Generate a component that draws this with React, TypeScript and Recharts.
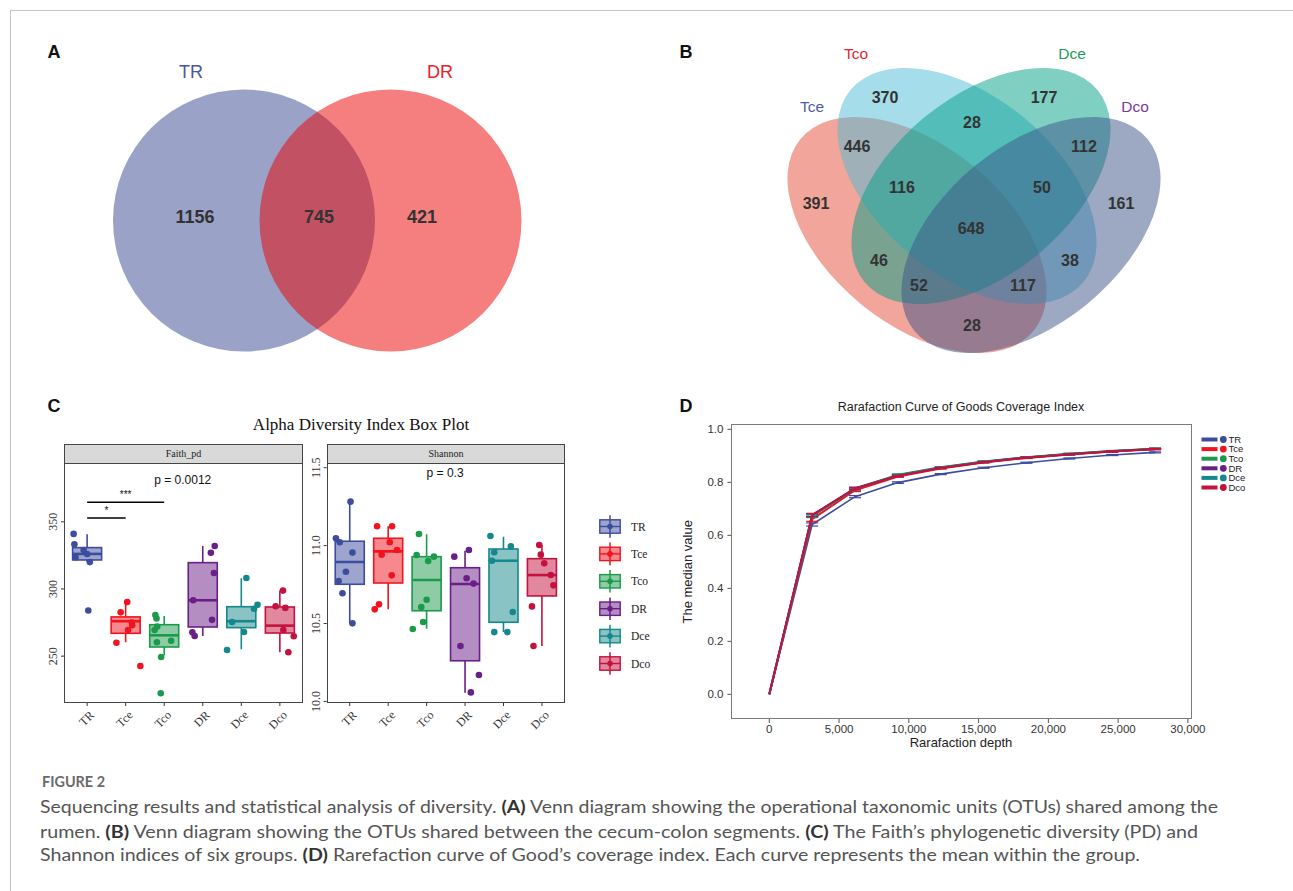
import React from "react";
import {
  ScatterChart,
  ComposedChart,
  LineChart,
  Scatter,
  Bar,
  Line,
  XAxis,
  YAxis,
  ReferenceLine,
  ErrorBar,
  Legend,
} from "recharts";

const SANS = '"Liberation Sans", Arial, Helvetica, sans-serif';
const SERIF = '"Liberation Serif", "Times New Roman", serif';
const CAPTION_FONT = 'Lato, "Open Sans", "Noto Sans", sans-serif';

// ---------- A: rumen Venn ----------
const rumenSets = ["TR", "DR"];
const rumenCounts = [1156, 745, 421]; // TR only, shared, DR only

// ---------- B: cecum-colon Venn ----------
const gutSets = ["Tce", "Tco", "Dce", "Dco"];
// Tco, Dce, Tco&Dce, Tce&Tco, Dce&Dco, Tce&Tco&Dce, Tco&Dce&Dco, Tce, Dco,
// all, Tce&Dce, Tco&Dco, Tce&Dce&Dco, Tce&Tco&Dco, Tce&Dco
const gutCounts = [370, 177, 28, 446, 112, 116, 50, 391, 161, 648, 46, 38, 52, 117, 28];

// ---------- C: alpha diversity ----------
const groups = ["TR", "Tce", "Tco", "DR", "Dce", "Dco"];

const faithLow = [320.0, 260.3, 250.6, 265.0, 255.1, 252.9];
const faithQ1 = [321.6, 267.0, 256.8, 271.7, 271.2, 267.2];
const faithMedian = [326.1, 276.0, 265.5, 291.6, 276.0, 272.7];
const faithQ3 = [330.8, 279.2, 273.4, 319.6, 286.8, 286.6];
const faithHigh = [340.7, 289.8, 279.9, 332.0, 308.0, 298.7];
const faithSamples = [
  [341, 333.3, 329, 326, 323.6, 320, 284],
  [290.3, 282.6, 275, 273, 269.5, 260, 242.7],
  [280.6, 278, 272, 269.5, 261.5, 260.3, 249.4, 222.4],
  [332, 327, 311.9, 291.6, 277, 267.8, 265],
  [308.2, 288.3, 285.3, 275.4, 268, 254.6],
  [298.8, 287.1, 285.9, 269.5, 264.8, 252.9],
];
const faithJitter = [
  [-0.35, -0.33, -0.09, 0.0, -0.3, 0.07, 0.03],
  [0.04, -0.13, 0.16, 0.17, 0.06, -0.24, 0.38],
  [-0.23, -0.2, -0.18, -0.25, 0.18, -0.19, -0.08, -0.09],
  [0.31, 0.21, 0.29, -0.25, 0.24, -0.27, -0.21],
  [0.13, 0.42, 0.33, -0.24, 0.07, -0.37],
  [0.08, -0.11, 0.14, 0.09, 0.36, 0.22],
];

const shannonLow = [10.501, 10.591, 10.467, 10.056, 10.445, 10.356];
const shannonQ1 = [10.752, 10.76, 10.582, 10.261, 10.508, 10.677];
const shannonMedian = [10.895, 10.963, 10.779, 10.754, 10.903, 10.811];
const shannonQ3 = [11.028, 11.047, 10.929, 10.858, 10.978, 10.916];
const shannonHigh = [11.282, 11.124, 11.073, 10.967, 11.057, 11.004];
const shannonSamples = [
  [11.282, 11.047, 11.021, 10.955, 10.832, 10.773, 10.694, 10.501],
  [11.124, 11.124, 11.021, 10.972, 10.942, 10.809, 10.623, 10.591],
  [11.074, 10.94, 10.929, 10.901, 10.653, 10.606, 10.51, 10.465],
  [10.929, 10.972, 10.79, 10.756, 10.356, 10.17, 10.058],
  [11.062, 10.995, 10.957, 10.903, 10.574, 10.445, 10.445],
  [11.004, 10.942, 10.886, 10.811, 10.745, 10.61, 10.356],
];
const shannonJitter = [
  [0.02, -0.36, -0.26, 0.07, -0.1, -0.29, -0.19, 0.07],
  [-0.29, 0.1, 0.04, 0.23, -0.17, 0.09, -0.24, -0.35],
  [-0.2, -0.26, 0.19, 0.04, 0.0, -0.14, -0.09, -0.36],
  [-0.28, 0.1, 0.04, 0.22, -0.12, 0.36, 0.15],
  [-0.34, 0.19, -0.24, -0.3, 0.24, -0.24, 0.1],
  [-0.07, -0.03, 0.06, 0.23, 0.3, -0.26, -0.22],
];

const faithP = "p = 0.0012";
const shannonP = "p = 0.3";
const faithSig = [
  { from: 1, to: 2, label: "*" },
  { from: 1, to: 3, label: "***" },
];

// ---------- D: rarefaction of Good's coverage ----------
const depths = [0, 3072, 6144, 9216, 12288, 15360, 18432, 21504, 24576, 27648];
const coverageTR = [0, 0.641, 0.746, 0.799, 0.831, 0.855, 0.874, 0.89, 0.903, 0.913];
const coverageTce = [0, 0.661, 0.77, 0.822, 0.852, 0.875, 0.892, 0.905, 0.916, 0.925];
const coverageTco = [0, 0.674, 0.776, 0.829, 0.857, 0.879, 0.895, 0.908, 0.918, 0.927];
const coverageDR = [0, 0.676, 0.778, 0.826, 0.855, 0.877, 0.894, 0.906, 0.917, 0.926];
const coverageDce = [0, 0.672, 0.775, 0.827, 0.856, 0.878, 0.894, 0.907, 0.918, 0.927];
const coverageDco = [0, 0.677, 0.776, 0.824, 0.854, 0.876, 0.893, 0.906, 0.917, 0.926];
const sdTR = [0, 0.006, 0.004, 0.003, 0.002, 0.002, 0.002, 0.002, 0.002, 0.002];
const sdTce = [0, 0.008, 0.005, 0.003, 0.002, 0.002, 0.002, 0.002, 0.002, 0.002];
const sdTco = [0, 0.005, 0.004, 0.003, 0.002, 0.002, 0.002, 0.002, 0.002, 0.002];
const sdDR = [0, 0.005, 0.004, 0.003, 0.002, 0.002, 0.002, 0.002, 0.002, 0.002];
const sdDce = [0, 0.005, 0.004, 0.003, 0.002, 0.002, 0.002, 0.002, 0.002, 0.002];
const sdDco = [0, 0.006, 0.004, 0.003, 0.002, 0.002, 0.002, 0.002, 0.002, 0.002];
const depthTicks = [0, 5000, 10000, 15000, 20000, 25000, 30000];
const coverageTicks = [0, 0.2, 0.4, 0.6, 0.8, 1.0];

// ---------- styling / layout ----------
const groupColors = ["#3C4C9E", "#F0141E", "#1B9A4B", "#6A1E87", "#14888A", "#C4123E"];
const BOX_WIDTH = 29;

const RUMEN_LAYOUT = {
  circles: [
    { cx: 244, cy: 220.5, r: 131 },
    { cx: 390.5, cy: 220.5, r: 131 },
  ],
  fills: ["#374591", "#eb0000"],
  titles: [
    { x: 191, y: 72 },
    { x: 440, y: 72 },
  ],
  titleColors: ["#4b5597", "#e8202a"],
  counts: [
    { x: 195, y: 217 },
    { x: 319, y: 217 },
    { x: 422, y: 217 },
  ],
};

const GUT_LAYOUT = {
  ellipses: [
    { cx: 917, cy: 235, angle: 39.5 },
    { cx: 967, cy: 186, angle: 39.5 },
    { cx: 981, cy: 186, angle: -39.5 },
    { cx: 1031, cy: 235, angle: -39.5 },
  ],
  rx: 151,
  ry: 89,
  fills: ["#E64B35", "#4DBBD5", "#00A087", "#3C5488"],
  titles: [
    { x: 812, y: 106 },
    { x: 856, y: 53 },
    { x: 1072, y: 53 },
    { x: 1135, y: 106 },
  ],
  titleColors: ["#4d5ca6", "#e4262f", "#1f9d55", "#7a3a96"],
  counts: [
    { x: 885, y: 97 },
    { x: 1044, y: 97 },
    { x: 972, y: 122 },
    { x: 857, y: 146 },
    { x: 1084, y: 146 },
    { x: 902, y: 187 },
    { x: 1042, y: 187 },
    { x: 816, y: 203 },
    { x: 1121, y: 203 },
    { x: 971, y: 228 },
    { x: 879, y: 260 },
    { x: 1070, y: 260 },
    { x: 919, y: 285 },
    { x: 1023, y: 285 },
    { x: 972, y: 325 },
  ],
};

// ---------- derived tables ----------
const rumenShapes = rumenSets.map((s, i) => ({
  name: s,
  x: RUMEN_LAYOUT.circles[i].cx,
  y: RUMEN_LAYOUT.circles[i].cy,
  rx: RUMEN_LAYOUT.circles[i].r,
  ry: RUMEN_LAYOUT.circles[i].r,
  angle: 0,
  fill: RUMEN_LAYOUT.fills[i],
}));
const rumenTexts = [
  ...rumenSets.map((s, i) => ({
    x: RUMEN_LAYOUT.titles[i].x,
    y: RUMEN_LAYOUT.titles[i].y,
    text: s,
    color: RUMEN_LAYOUT.titleColors[i],
    size: 18,
    weight: 400,
  })),
  ...rumenCounts.map((c, i) => ({
    x: RUMEN_LAYOUT.counts[i].x,
    y: RUMEN_LAYOUT.counts[i].y,
    text: String(c),
    color: "#333",
    size: 18,
    weight: 700,
  })),
];

const gutShapes = gutSets.map((s, i) => ({
  name: s,
  x: GUT_LAYOUT.ellipses[i].cx,
  y: GUT_LAYOUT.ellipses[i].cy,
  rx: GUT_LAYOUT.rx,
  ry: GUT_LAYOUT.ry,
  angle: GUT_LAYOUT.ellipses[i].angle,
  fill: GUT_LAYOUT.fills[i],
}));
const gutTexts = [
  ...gutSets.map((s, i) => ({
    x: GUT_LAYOUT.titles[i].x,
    y: GUT_LAYOUT.titles[i].y,
    text: s,
    color: GUT_LAYOUT.titleColors[i],
    size: 15.5,
    weight: 400,
  })),
  ...gutCounts.map((c, i) => ({
    x: GUT_LAYOUT.counts[i].x,
    y: GUT_LAYOUT.counts[i].y,
    text: String(c),
    color: "#333",
    size: 16,
    weight: 700,
  })),
];

const buildBoxes = (lo: number[], q1: number[], med: number[], q3: number[], hi: number[]) =>
  groups.map((g, i) => ({
    pos: i + 1,
    group: g,
    range: [lo[i], hi[i]],
    q1: q1[i],
    median: med[i],
    q3: q3[i],
  }));

const buildDots = (samples: number[][], jitter: number[][]) =>
  samples.flatMap((vals, i) =>
    vals.map((v, j) => ({ pos: i + 1 + jitter[i][j], value: v, group: groups[i] }))
  );

const faithBoxes = buildBoxes(faithLow, faithQ1, faithMedian, faithQ3, faithHigh);
const shannonBoxes = buildBoxes(shannonLow, shannonQ1, shannonMedian, shannonQ3, shannonHigh);
const faithDots = buildDots(faithSamples, faithJitter);
const shannonDots = buildDots(shannonSamples, shannonJitter);

const faithLevels = [352.9, 364.6];
const faithNotes = [
  { pos: 3.48, value: 381.2, text: faithP, size: 12 },
  { pos: 1.5, value: 358.5, text: faithSig[0].label, size: 10 },
  { pos: 2.0, value: 370.5, text: faithSig[1].label, size: 10 },
];
const shannonNotes = [{ pos: 3.48, value: 11.464, text: shannonP, size: 12 }];

const coverageSeries = [coverageTR, coverageTce, coverageTco, coverageDR, coverageDce, coverageDco];
const sdSeries = [sdTR, sdTce, sdTco, sdDR, sdDce, sdDco];
const curveRows = depths.map((d, i) => {
  const row: Record<string, number> = { depth: d };
  groups.forEach((g, k) => {
    row[g] = coverageSeries[k][i];
    row[`${g}_sd`] = sdSeries[k][i];
  });
  return row;
});

// ---------- shapes ----------
const EllipseShape = (p: any) => {
  const d = p.payload;
  return (
    <ellipse
      cx={p.cx}
      cy={p.cy}
      rx={d.rx}
      ry={d.ry}
      transform={`rotate(${d.angle} ${p.cx} ${p.cy})`}
      fill={d.fill}
      fillOpacity={0.5}
    />
  );
};

const TextShape = (p: any) => {
  const d = p.payload;
  return (
    <text
      x={p.cx}
      y={p.cy}
      textAnchor="middle"
      dominantBaseline="central"
      fontFamily={SANS}
      fontSize={d.size}
      fontWeight={d.weight}
      fill={d.color}
    >
      {d.text}
    </text>
  );
};

const NoteShape = (p: any) => {
  const d = p.payload;
  return (
    <text
      x={p.cx}
      y={p.cy}
      textAnchor="middle"
      dominantBaseline="central"
      fontFamily={SANS}
      fontSize={d.size}
      fill="#111"
    >
      {d.text}
    </text>
  );
};

const colorOf = (g: string) => groupColors[groups.indexOf(g)];

// the bar spans whisker low..high, so its pixel extent gives the value scale
const BoxShape = (p: any) => {
  const d = p.payload;
  const { x, y, width, height } = p;
  const [lo, hi] = d.range;
  const top = Math.min(y, y + height);
  const k = Math.abs(height) / (hi - lo);
  const py = (v: number) => top + (hi - v) * k;
  const c = colorOf(d.group);
  const mid = x + (width || 0) / 2;
  const bx = mid - BOX_WIDTH / 2;
  return (
    <g>
      <line x1={mid} x2={mid} y1={py(hi)} y2={py(d.q3)} stroke={c} strokeWidth={1.6} />
      <line x1={mid} x2={mid} y1={py(d.q1)} y2={py(lo)} stroke={c} strokeWidth={1.6} />
      <rect
        x={bx}
        y={py(d.q3)}
        width={BOX_WIDTH}
        height={py(d.q1) - py(d.q3)}
        fill={c}
        fillOpacity={0.5}
        stroke={c}
        strokeWidth={1.6}
      />
      <line x1={bx} x2={bx + BOX_WIDTH} y1={py(d.median)} y2={py(d.median)} stroke={c} strokeWidth={2.6} />
    </g>
  );
};

const DotShape = (p: any) => <circle cx={p.cx} cy={p.cy} r={3.3} fill={colorOf(p.payload.group)} />;

const CategoryTick = (p: any) => {
  const label = groups[Math.round(p.payload.value) - 1];
  const ax = p.x + 5;
  const ay = p.y + 5;
  return (
    <text
      x={ax}
      y={ay}
      transform={`rotate(-45 ${ax} ${ay})`}
      textAnchor="end"
      dominantBaseline="central"
      fontFamily={SERIF}
      fontSize={12}
      fill="#333"
    >
      {label}
    </text>
  );
};

const RotatedTick = (p: any) => {
  const ax = p.x - 1.5;
  return (
    <text
      x={ax}
      y={p.y}
      transform={`rotate(-90 ${ax} ${p.y})`}
      textAnchor="middle"
      fontFamily={SERIF}
      fontSize={12}
      fill="#333"
    >
      {p.fmt(p.payload.value)}
    </text>
  );
};

// ---------- legends ----------
const BoxKey = () => (
  <svg width={70} height={170}>
    {groups.map((g, i) => {
      const c = groupColors[i];
      const cy = 12.5 + 27.4 * i;
      return (
        <g key={g}>
          <line x1={11} x2={11} y1={cy - 11.3} y2={cy + 11.3} stroke={c} strokeWidth={1.5} />
          <rect x={0.8} y={cy - 6.7} width={20.4} height={13.4} fill={c} fillOpacity={0.5} stroke={c} strokeWidth={1.4} />
          <line x1={0.8} x2={21.2} y1={cy} y2={cy} stroke={c} strokeWidth={1.4} />
          <circle cx={11} cy={cy} r={2.8} fill={c} />
          <text x={32} y={cy + 4} fontFamily={SERIF} fontSize={11.5} fill="#222">
            {g}
          </text>
        </g>
      );
    })}
  </svg>
);

const CurveKey = () => (
  <svg width={70} height={64}>
    {groups.map((g, i) => {
      const c = groupColors[i];
      const cy = 5.5 + 9.6 * i;
      return (
        <g key={g}>
          <line x1={1.5} x2={17.5} y1={cy} y2={cy} stroke={c} strokeWidth={4} />
          <circle cx={23.3} cy={cy} r={3.4} fill={c} />
          <text x={28.5} y={cy + 3.3} fontFamily={SANS} fontSize={9.5} fill="#222">
            {g}
          </text>
        </g>
      );
    })}
  </svg>
);

// ---------- panels ----------
function VennPanel({ left, top, width, height, shapes, texts }: any) {
  return (
    <div style={{ position: "absolute", left, top }}>
      <ScatterChart width={width} height={height} margin={{ top: 0, right: 0, bottom: 0, left: 0 }}>
        <XAxis type="number" dataKey="x" domain={[left, left + width]} hide />
        <YAxis type="number" dataKey="y" domain={[top, top + height]} reversed hide />
        <Scatter data={shapes} shape={EllipseShape} isAnimationActive={false} />
        <Scatter data={texts} shape={TextShape} isAnimationActive={false} />
      </ScatterChart>
    </div>
  );
}

function BoxPanel({ left, top, width, height, margin, domain, yTicks, yFmt, boxes, dots, notes, levels, legend }: any) {
  return (
    <div style={{ position: "absolute", left, top }}>
      <ComposedChart width={width} height={height} data={boxes} margin={margin}>
        <XAxis
          type="number"
          dataKey="pos"
          domain={[0.4, 6.6]}
          ticks={groups.map((_, i) => i + 1)}
          interval={0}
          allowDataOverflow
          axisLine={false}
          tickSize={3}
          tickLine={{ stroke: "#333" }}
          tick={<CategoryTick />}
          height={40}
        />
        <YAxis
          type="number"
          domain={domain}
          ticks={yTicks}
          allowDataOverflow
          axisLine={false}
          tickSize={3}
          tickLine={{ stroke: "#333" }}
          tick={<RotatedTick fmt={yFmt} />}
          width={30}
        />
        <Bar dataKey="range" barSize={BOX_WIDTH} shape={BoxShape} isAnimationActive={false} />
        <Scatter data={dots} dataKey="value" shape={DotShape} isAnimationActive={false} />
        {(levels || []).map((lv: number, i: number) => (
          <ReferenceLine
            key={i}
            segment={[
              { x: faithSig[i].from, y: lv },
              { x: faithSig[i].to, y: lv },
            ]}
            stroke="#000"
            strokeWidth={1.5}
          />
        ))}
        <Scatter data={notes} dataKey="value" shape={NoteShape} isAnimationActive={false} />
        {legend}
      </ComposedChart>
    </div>
  );
}

function CurvePanel() {
  return (
    <div style={{ position: "absolute", left: 640, top: 395 }}>
      <LineChart
        width={653}
        height={370}
        data={curveRows}
        margin={{ top: 29.3, right: 100.9, bottom: 16, left: 41.4 }}
      >
        <XAxis
          type="number"
          dataKey="depth"
          domain={[-2716, 30301]}
          ticks={depthTicks}
          interval={0}
          allowDataOverflow
          axisLine={false}
          tickSize={4}
          tickLine={{ stroke: "#555" }}
          tick={{ fontFamily: SANS, fontSize: 11.5, fill: "#333" }}
          tickFormatter={(v: number) => v.toLocaleString("en-US")}
          height={30}
        />
        <YAxis
          type="number"
          domain={[-0.093, 1.019]}
          ticks={coverageTicks}
          interval={0}
          allowDataOverflow
          axisLine={false}
          tickSize={4}
          tickMargin={4}
          tickLine={{ stroke: "#555" }}
          tick={{ fontFamily: SANS, fontSize: 11.5, fill: "#333" }}
          tickFormatter={(v: number) => v.toFixed(1)}
          width={50}
        />
        {groups.map((g, i) => (
          <Line
            key={g}
            dataKey={g}
            stroke={groupColors[i]}
            strokeWidth={g === "TR" ? 1.6 : 2}
            dot={false}
            isAnimationActive={false}
          >
            <ErrorBar dataKey={`${g}_sd`} width={6} stroke={groupColors[i]} strokeWidth={1.2} direction="y" />
          </Line>
        ))}
        <Legend
          layout="vertical"
          align="center"
          verticalAlign="middle"
          wrapperStyle={{ position: "absolute", left: 560, top: 39, width: 70, height: 64 }}
          content={() => <CurveKey />}
        />
      </LineChart>
    </div>
  );
}

// ---------- page helpers ----------
const Txt = ({ x, y, size, children, style }: any) => (
  <div
    style={{
      position: "absolute",
      left: x - 300,
      width: 600,
      top: y - size * 0.6,
      height: size * 1.2,
      lineHeight: `${size * 1.2}px`,
      fontSize: size,
      textAlign: "center",
      whiteSpace: "nowrap",
      pointerEvents: "none",
      ...style,
    }}
  >
    {children}
  </div>
);

const Box = ({ l, t, w, h, style }: any) => (
  <div
    style={{
      position: "absolute",
      left: l,
      top: t,
      width: w,
      height: h,
      boxSizing: "border-box",
      pointerEvents: "none",
      ...style,
    }}
  />
);

const Caption = () => {
  const b = { fontWeight: 700, fill: "#333" };
  return (
    <svg style={{ position: "absolute", left: 0, top: 760 }} width={1293} height={131}>
      <text x={42} y={27.3} fontFamily={CAPTION_FONT} fontSize={15} fontWeight={700} fill="#6a6a6a" textLength={63} lengthAdjust="spacingAndGlyphs">
        FIGURE 2
      </text>
      <g fontFamily={CAPTION_FONT} fontSize={16.5} fill="#555">
        <text x={40} y={53} textLength={1178} lengthAdjust="spacingAndGlyphs">
          Sequencing results and statistical analysis of diversity. <tspan {...b}>(A)</tspan> Venn diagram showing the operational taxonomic units (OTUs) shared among the
        </text>
        <text x={40} y={77.5} textLength={1158} lengthAdjust="spacingAndGlyphs">
          rumen. <tspan {...b}>(B)</tspan> Venn diagram showing the OTUs shared between the cecum-colon segments. <tspan {...b}>(C)</tspan> The Faith’s phylogenetic diversity (PD) and
        </text>
        <text x={40} y={101} textLength={1100} lengthAdjust="spacingAndGlyphs">
          Shannon indices of six groups. <tspan {...b}>(D)</tspan> Rarefaction curve of Good’s coverage index. Each curve represents the mean within the group.
        </text>
      </g>
    </svg>
  );
};

export default function App() {
  const letter = { fontFamily: SANS, fontWeight: 700, color: "#111" };
  return (
    <div
      style={{
        position: "absolute",
        left: 0,
        top: 0,
        width: 1293,
        height: 891,
        background: "#fff",
        overflow: "hidden",
        fontFamily: SANS,
      }}
    >
      <Box l={10} t={10} w={1300} h={900} style={{ borderTop: "1px solid #c4c4c4", borderLeft: "1px solid #c4c4c4" }} />

      <VennPanel left={100} top={60} width={440} height={300} shapes={rumenShapes} texts={rumenTexts} />
      <VennPanel left={690} top={30} width={480} height={340} shapes={gutShapes} texts={gutTexts} />

      <BoxPanel
        left={0}
        top={455}
        width={310}
        height={300}
        margin={{ top: 8, right: 7, bottom: 12, left: 34 }}
        domain={[215.1, 393.8]}
        yTicks={[250, 300, 350]}
        yFmt={(v: number) => String(v)}
        boxes={faithBoxes}
        dots={faithDots}
        notes={faithNotes}
        levels={faithLevels}
      />
      <BoxPanel
        left={290}
        top={455}
        width={390}
        height={300}
        margin={{ top: 8, right: 115, bottom: 12, left: 6.7 }}
        domain={[9.99, 11.53]}
        yTicks={[10, 10.5, 11, 11.5]}
        yFmt={(v: number) => v.toFixed(1)}
        boxes={shannonBoxes}
        dots={shannonDots}
        notes={shannonNotes}
        levels={[]}
        legend={
          <Legend
            layout="vertical"
            align="center"
            verticalAlign="middle"
            wrapperStyle={{ position: "absolute", left: 309, top: 59, width: 70, height: 170 }}
            content={() => <BoxKey />}
          />
        }
      />
      {/* facet strips and panel borders */}
      <Box l={64} t={444} w={239} h={20} style={{ background: "#d9d9d9", border: "1px solid #444" }} />
      <Box l={64} t={463} w={239} h={240} style={{ border: "1px solid #444" }} />
      <Box l={326.7} t={444} w={238.3} h={20} style={{ background: "#d9d9d9", border: "1px solid #444" }} />
      <Box l={326.7} t={463} w={238.3} h={240} style={{ border: "1px solid #444" }} />
      <Txt x={183.5} y={454} size={10} style={{ fontFamily: SERIF, color: "#222" }}>
        Faith_pd
      </Txt>
      <Txt x={446} y={454} size={10} style={{ fontFamily: SERIF, color: "#222" }}>
        Shannon
      </Txt>
      <Txt x={361} y={425} size={17} style={{ fontFamily: SERIF, color: "#111" }}>
        Alpha Diversity Index Box Plot
      </Txt>

      <CurvePanel />
      <Box l={731.4} t={424.3} w={460.7} h={294.7} style={{ border: "1px solid #7a7a7a" }} />
      <Txt x={961} y={407.5} size={12.5} style={{ color: "#222" }}>
        Rarafaction Curve of Goods Coverage Index
      </Txt>
      <Txt x={961} y={743} size={13} style={{ color: "#222" }}>
        Rarafaction depth
      </Txt>
      <Txt x={688} y={571.7} size={13} style={{ color: "#222", transform: "rotate(-90deg)" }}>
        The median value
      </Txt>

      <Txt x={54} y={53} size={18} style={letter}>A</Txt>
      <Txt x={686} y={53} size={18} style={letter}>B</Txt>
      <Txt x={54} y={407} size={18} style={letter}>C</Txt>
      <Txt x={686} y={407} size={18} style={letter}>D</Txt>

      <Caption />
    </div>
  );
}
